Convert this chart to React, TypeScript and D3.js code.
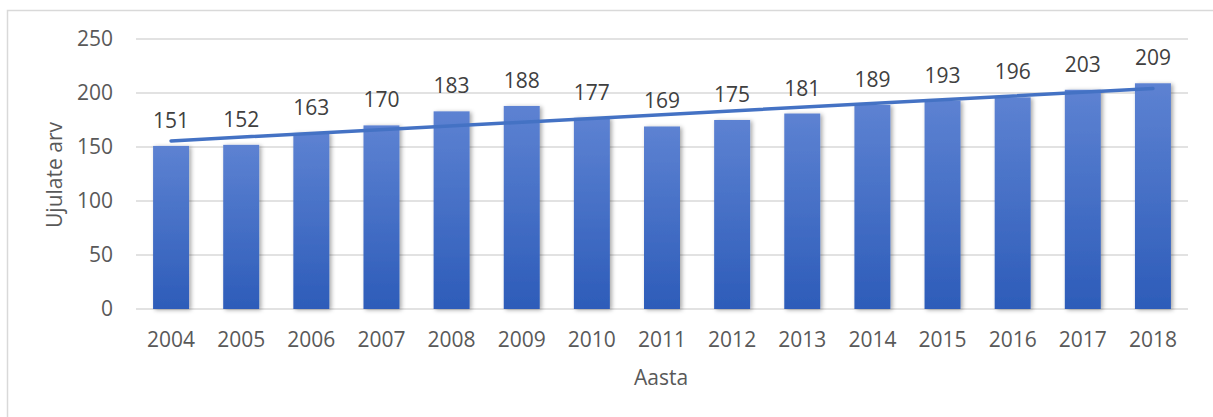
import React from "react";
import * as d3 from "d3";

const years = ["2004","2005","2006","2007","2008","2009","2010","2011","2012","2013","2014","2015","2016","2017","2018"];
const values = [151,152,163,170,183,188,177,169,175,181,189,193,196,203,209];
const yTicks = [0,50,100,150,200,250];
const yTitle = "Ujulate arv";
const xTitle = "Aasta";

const W = 1213, H = 417;
const FONT = "'Open Sans', 'Noto Sans', sans-serif";
const FS = 21;

export default function App() {
  const x = d3.scaleBand<string>().domain(years).range([136, 1188]).paddingInner(0.487).paddingOuter(0.2435);
  const y = d3.scaleLinear().domain([0, 250]).range([309, 39]);

  // linear regression trendline
  const n = values.length;
  const xs = values.map((_, i) => i);
  const mx = d3.mean(xs)!;
  const my = d3.mean(values)!;
  const sxy = d3.sum(xs.map((xi, i) => (xi - mx) * (values[i] - my)));
  const sxx = d3.sum(xs.map((xi) => (xi - mx) ** 2));
  const slope = sxy / sxx;
  const intercept = my - slope * mx;
  const trendPts: [number, number][] = [0, n - 1].map((i) => [
    x(years[i])! + x.bandwidth() / 2,
    y(intercept + slope * i),
  ]);
  const line = d3.line();

  return (
    <svg width={W} height={H} style={{ position: "absolute", left: 0, top: 0 }} fontFamily={FONT}>
      <defs>
        <linearGradient id="barGrad" x1="0" y1="0" x2="0" y2="1">
          <stop offset="0%" stopColor="#5d82d2" />
          <stop offset="100%" stopColor="#2d5cb9" />
        </linearGradient>
        <filter id="shadow" x="-30%" y="-10%" width="160%" height="120%">
          <feDropShadow dx="2" dy="1" stdDeviation="2" floodColor="#000" floodOpacity="0.35" />
        </filter>
      </defs>
      <rect x={0} y={0} width={W} height={H} fill="#fff" />
      <rect x={7.5} y={10.5} width={W + 10} height={H + 10} fill="#fff" stroke="#d9d9d9" strokeWidth={1.5} />
      {yTicks.map((t) => (
        <g key={t}>
          <line x1={136} x2={1188} y1={y(t)} y2={y(t)} stroke="#d9d9d9" strokeWidth={1.5} />
          <text x={113} y={y(t)} dy="0.35em" textAnchor="end" fontSize={FS} fill="#595959">{t}</text>
        </g>
      ))}
      {years.map((yr, i) => (
        <g key={yr}>
          <rect
            x={x(yr)!}
            y={y(values[i])}
            width={x.bandwidth()}
            height={y(0) - y(values[i])}
            fill="url(#barGrad)"
            filter="url(#shadow)"
          />
          <text x={x(yr)! + x.bandwidth() / 2} y={347} textAnchor="middle" fontSize={FS} fill="#595959">{yr}</text>
        </g>
      ))}
      <path d={line(trendPts)!} stroke="#4472c4" strokeWidth={3.5} strokeLinecap="round" fill="none" />
      {years.map((yr, i) => (
        <text key={"l" + yr} x={x(yr)! + x.bandwidth() / 2} y={y(values[i]) - 18} textAnchor="middle" fontSize={FS} fill="#404040">{values[i]}</text>
      ))}
      <text transform={`translate(62,175) rotate(-90)`} textAnchor="middle" fontSize={FS} fill="#595959">{yTitle}</text>
      <text x={661} y={385} textAnchor="middle" fontSize={FS} fill="#595959">{xTitle}</text>
    </svg>
  );
}
